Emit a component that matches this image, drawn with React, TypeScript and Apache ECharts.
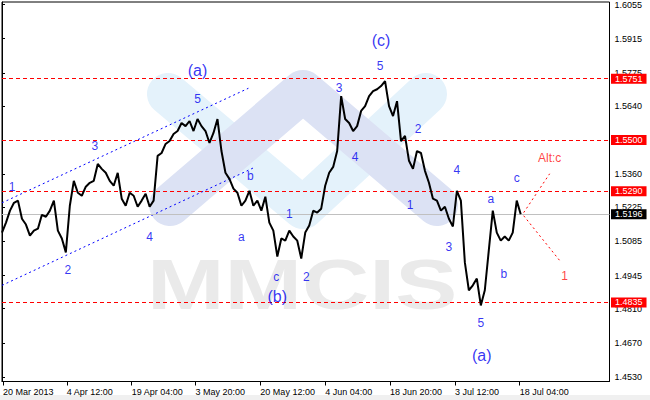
import React, { useEffect, useRef } from 'react';
import * as echarts from 'echarts';

// H4 closes, one value every 4 bars, starting 20 Mar 2013
const priceStepBars = 4;
const prices = [
  1.5121, 1.5162, 1.5211, 1.5243, 1.5252, 1.5178, 1.5154, 1.5109, 1.5129, 1.5137,
  1.5194, 1.5186, 1.5211, 1.5252, 1.5129, 1.5097, 1.5040, 1.5231, 1.5333, 1.5284,
  1.5272, 1.5309, 1.5325, 1.5333, 1.5402, 1.5382, 1.5366, 1.5333, 1.5313, 1.5366,
  1.5260, 1.5231, 1.5284, 1.5272, 1.5227, 1.5252, 1.5280, 1.5227, 1.5252, 1.5435,
  1.5447, 1.5484, 1.5496, 1.5525, 1.5537, 1.5570, 1.5557, 1.5578, 1.5537, 1.5586,
  1.5557, 1.5537, 1.5488, 1.5529, 1.5586, 1.5455, 1.5366, 1.5341, 1.5301, 1.5284,
  1.5231, 1.5252, 1.5292, 1.5231, 1.5252, 1.5211, 1.5268, 1.5162, 1.5129, 1.5023,
  1.5097, 1.5088, 1.5129, 1.5105, 1.5088, 1.5015, 1.5121, 1.5150, 1.5211, 1.5203,
  1.5219, 1.5313, 1.5366, 1.5390, 1.5455, 1.5680, 1.5586, 1.5570, 1.5537, 1.5557,
  1.5619, 1.5639, 1.5680, 1.5700, 1.5708, 1.5721, 1.5741, 1.5639, 1.5598, 1.5659,
  1.5496, 1.5517, 1.5415, 1.5382, 1.5455, 1.5447, 1.5374, 1.5325, 1.5260, 1.5252,
  1.5211, 1.5227, 1.5178, 1.5146, 1.5292, 1.5252, 1.4999, 1.4885, 1.4905, 1.4933,
  1.4823, 1.4885, 1.5048, 1.5211, 1.5121, 1.5088, 1.5105, 1.5088, 1.5121, 1.5252,
  1.5196,
];

const xTickBars = [1, 65, 130, 194, 259, 324, 389, 454, 519];
const xTickLabels = [
  '20 Mar 2013', '4 Apr 12:00', '19 Apr 04:00', '3 May 20:00', '20 May 12:00',
  '4 Jun 04:00', '18 Jun 20:00', '3 Jul 12:00', '18 Jul 04:00',
];
const yTickValues = [
  1.4530, 1.4670, 1.4810, 1.4945, 1.5085, 1.5225, 1.5360, 1.5500, 1.5640, 1.5775, 1.5915, 1.6055,
];
const levelPrices = [1.5751, 1.5500, 1.5290, 1.4835];
const currentPrice = 1.5196;

const channelUpper = [[0, 1.5243], [247, 1.5712]];
const channelLower = [[0, 1.4905], [252, 1.5386]];
const altUp = [[523, 1.5203], [549, 1.5362]];
const altDown = [[523, 1.5190], [559, 1.5007]];

const waveText = ['1', '2', '3', '4', '5', '(a)', 'a', 'b', 'c', '(b)', '1', '2', '3', '4', '5', '(c)',
  '2', '1', '4', '3', '5', '(a)', 'a', 'b', 'c', 'Alt:c', '1'];
const waveBar = [10, 66, 93, 148, 196, 196, 240, 249, 275, 276, 288, 305, 338, 354, 379, 380,
  417, 409, 456, 448, 480, 481, 490, 503, 516, 549, 564];
const wavePrice = [1.5309, 1.4966, 1.5476, 1.5101, 1.5668, 1.5786, 1.5105, 1.5354, 1.4938, 1.4860,
  1.5199, 1.4938, 1.5712, 1.5431, 1.5802, 1.5908, 1.5545, 1.5235, 1.5378, 1.5064, 1.4750, 1.4616,
  1.5260, 1.4950, 1.5345, 1.5427, 1.4942];
const waveIsAlt = [0, 0, 0, 0, 0, 0, 0, 0, 0, 0, 0, 0, 0, 0, 0, 0, 0, 0, 0, 0, 0, 0, 0, 0, 0, 1, 1];

const FONT = '"Liberation Sans", Arial, sans-serif';
const BLUE = '#0000f0';
const RED = '#ff0000';

export default function App() {
  const ref = useRef<HTMLDivElement>(null);
  useEffect(() => {
    if (!ref.current) return;
    const chart = echarts.init(ref.current, null, { renderer: 'svg' });
    const option: any = {
      animation: false,
      backgroundColor: '#ffffff',
      grid: {
        left: 0.5, right: 40.5, top: 0.5, bottom: 18.5,
        show: true, borderColor: '#000', borderWidth: 1, backgroundColor: 'transparent',
      },
      graphic: [
        {
          type: 'polyline', z: 0, silent: true,
          shape: { points: [[168, 94], [303, 208], [426, 94]] },
          style: { stroke: '#e4f2fb', lineWidth: 42, lineCap: 'round', lineJoin: 'round', fill: null },
        },
        {
          type: 'polyline', z: 0, silent: true,
          shape: { points: [[170, 205], [303, 91], [437, 205]] },
          style: { stroke: '#dce2f4', lineWidth: 42, lineCap: 'round', lineJoin: 'round', fill: null },
        },
        {
          type: 'text', z: 0, silent: true, x: 147, y: 284, scaleX: 1.33,
          style: {
            text: 'MMCIS', font: 'bold 70px ' + FONT, fill: '#eaeaea',
            align: 'left', verticalAlign: 'middle',
          },
        },
        {
          type: 'rect', z: 0, silent: true,
          shape: { x: 0, y: 395, width: 650, height: 5 },
          style: { fill: '#f0f0f0' },
        },
      ],
      xAxis: {
        type: 'value', min: 0, max: 609,
        splitLine: { show: false },
        axisLine: { show: true, lineStyle: { color: '#000' } },
        axisTick: { show: true, customValues: xTickBars, length: 4, lineStyle: { color: '#000' } },
        axisLabel: {
          show: true, customValues: xTickBars, align: 'left', margin: 6,
          fontSize: 9, fontFamily: FONT, color: '#000',
          formatter: (v: number) => xTickLabels[xTickBars.indexOf(v)] ?? '',
        },
      },
      yAxis: {
        type: 'value', position: 'right', min: 1.45114, max: 1.60652, scale: true,
        splitLine: { show: false },
        axisLine: { show: true, lineStyle: { color: '#000' } },
        axisTick: { show: true, customValues: yTickValues, length: 3, lineStyle: { color: '#000' } },
        axisLabel: {
          show: true, customValues: yTickValues, margin: 5,
          fontSize: 9, fontFamily: FONT, color: '#000',
          formatter: (v: number) => v.toFixed(4),
        },
      },
      series: [
        {
          type: 'line', name: 'price', z: 5,
          data: prices.map((p, i) => [i * priceStepBars, p]),
          symbol: 'none',
          lineStyle: { color: '#000', width: 2 },
          markLine: {
            symbol: 'none', silent: true, precision: 4,
            lineStyle: { color: RED, type: [4, 3], width: 1, opacity: 1 },
            label: {
              show: true, position: 'end', distance: 1.5,
              formatter: (p: any) => Number(p.value).toFixed(4),
              color: '#fff', fontSize: 9, fontFamily: FONT,
              padding: [1, 4, 0, 4], lineHeight: 9, backgroundColor: RED,
            },
            data: [
              ...levelPrices.map((v) => ({ yAxis: v })),
              {
                yAxis: currentPrice,
                lineStyle: { color: '#c0c0c0', type: 'solid', width: 1 },
                label: { backgroundColor: '#000' },
              },
            ],
          },
        },
        {
          type: 'line', z: 4, data: channelUpper, symbol: 'none',
          lineStyle: { color: '#0000ff', type: [2, 3], width: 1 },
        },
        {
          type: 'line', z: 4, data: channelLower, symbol: 'none',
          lineStyle: { color: '#0000ff', type: [2, 3], width: 1 },
        },
        {
          type: 'line', z: 4, data: altUp, symbol: 'none',
          lineStyle: { color: RED, type: [2, 3], width: 1 },
        },
        {
          type: 'line', z: 4, data: altDown, symbol: 'none',
          lineStyle: { color: RED, type: [2, 3], width: 1 },
        },
        {
          type: 'scatter', z: 6, symbolSize: 1,
          itemStyle: { color: 'rgba(0,0,0,0)' },
          label: {
            show: true, position: 'inside', fontFamily: FONT,
            formatter: (p: any) => p.name,
          },
          data: waveText.map((t, i) => ({
            name: t,
            value: [waveBar[i], wavePrice[i]],
            label: {
              fontSize: t.startsWith('(') ? 16 : 12,
              color: waveIsAlt[i] ? '#ff1010' : BLUE,
            },
          })),
        },
      ],
    };
    chart.setOption(option);
    return () => chart.dispose();
  }, []);
  return (
    <div
      ref={ref}
      style={{ position: 'fixed', left: 0, top: 0, width: 650, height: 400, background: '#fff' }}
    />
  );
}
